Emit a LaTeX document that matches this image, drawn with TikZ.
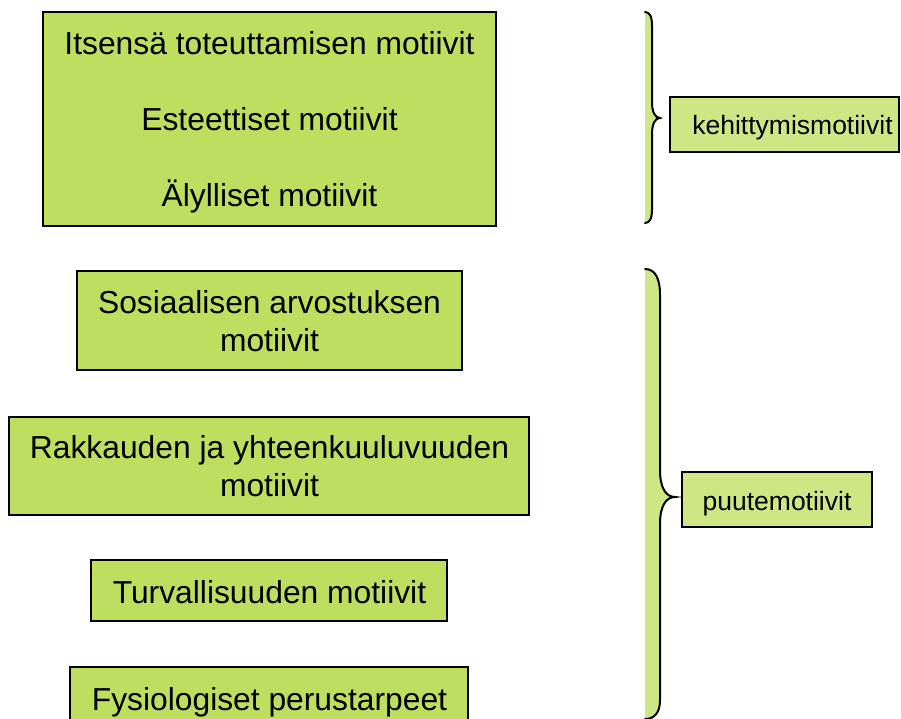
\documentclass[tikz,border=0pt]{standalone}
\usepackage{fontspec}
\setmainfont{Liberation Sans}
\definecolor{boxgreen}{RGB}{190,222,95}
\definecolor{palegreen}{RGB}{206,230,132}
\begin{document}
\begin{tikzpicture}[x=1pt,y=-1pt,
  motive/.style={draw=black,line width=2pt,fill=boxgreen,rectangle},
  tag/.style={draw=black,line width=2pt,fill=palegreen,rectangle},
  bigtext/.style={anchor=base,inner sep=0pt,font=\fontsize{31.8}{38}\selectfont},
  tagtext/.style={anchor=base,inner sep=0pt,font=\fontsize{26.5}{32}\selectfont},
  bracefill/.style={fill=palegreen,draw=none},
  braceline/.style={draw=black,line width=2pt,line cap=round}]
\useasboundingbox (0,0) rectangle (901,719);
\clip (0,0) rectangle (901,719);

% hierarchy of motives (boxes)
\draw[motive] (43,12) rectangle (496,226);
\coordinate (b1) at (269.5,119);
\node[bigtext] (t1a) at (269.5,55) {Itsensä toteuttamisen motiivit};
\node[bigtext] (t1b) at (269.5,131) {Esteettiset motiivit};
\node[bigtext] (t1c) at (269.5,207) {Älylliset motiivit};

\draw[motive] (77,271) rectangle (462,370);
\node[bigtext] (t2a) at (269.5,313) {Sosiaalisen arvostuksen};
\node[bigtext] (t2b) at (269.5,351) {motiivit};

\draw[motive] (9,417) rectangle (529,515);
\node[bigtext] (t3a) at (269.5,458) {Rakkauden ja yhteenkuuluvuuden};
\node[bigtext] (t3b) at (269.5,496) {motiivit};

\draw[motive] (91,560) rectangle (447,621);
\node[bigtext] (t4) at (269.5,603) {Turvallisuuden motiivit};

\draw[motive] (70,667) rectangle (468,740);
\node[bigtext] (t5) at (269.5,710) {Fysiologiset perustarpeet};

% upper brace
\fill[bracefill] (645,12) .. controls (650,12) and (652,17) .. (652,26) -- (652,102)
  .. controls (652,112) and (655,118) .. (660,118)
  .. controls (655,118) and (652,124) .. (652,134) -- (652,209)
  .. controls (652,218) and (650,223) .. (645,223) -- cycle;
\draw[braceline] (645,12) .. controls (650,12) and (652,17) .. (652,26) -- (652,102)
  .. controls (652,112) and (655,118) .. (660,118)
  .. controls (655,118) and (652,124) .. (652,134) -- (652,209)
  .. controls (652,218) and (650,223) .. (645,223);

% lower brace
\fill[bracefill] (645,269) .. controls (655,269) and (660,278) .. (660,295) -- (660,470)
  .. controls (660,488) and (666,497) .. (675,497)
  .. controls (666,497) and (660,506) .. (660,524) -- (660,700)
  .. controls (660,712) and (655,719) .. (645,719) -- cycle;
\draw[braceline] (645,269) .. controls (655,269) and (660,278) .. (660,295) -- (660,470)
  .. controls (660,488) and (666,497) .. (675,497)
  .. controls (666,497) and (660,506) .. (660,524) -- (660,700)
  .. controls (660,712) and (655,719) .. (645,719);

% group labels
\draw[tag] (670,97) rectangle (899,152);
\node[tagtext] (k) at (792.5,135) {kehittymismotiivit};
\draw[tag] (682,472) rectangle (872,527);
\node[tagtext] (p) at (777,510) {puutemotiivit};
\end{tikzpicture}
\end{document}
